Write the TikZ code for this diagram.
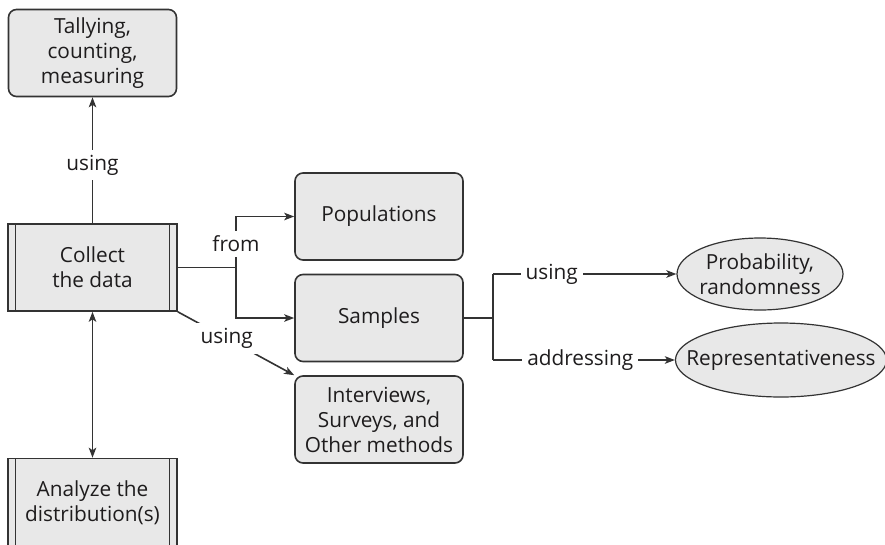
\documentclass[tikz,border=0pt]{standalone}
\usepackage{fontspec}
\setmainfont{Open Sans}
\usetikzlibrary{arrows.meta,shapes.geometric}
\definecolor{boxfill}{HTML}{E8E8E8}
\definecolor{ink}{HTML}{333333}
\definecolor{txt}{HTML}{1E1C1D}
\tikzset{
  arrowtip/.tip={Stealth[length=10pt, width=7.5pt, inset=2.5pt]},
  base/.style={draw=ink, fill=boxfill, line width=1.6pt, text=txt, align=center,
    font=\fontsize{20.8}{25}\selectfont, inner sep=0pt},
  roundbox/.style={base, rounded corners=8pt, minimum width=168pt, minimum height=87pt},
  stepbox/.style={base, minimum width=169pt, minimum height=87pt,
    path picture={
      \draw[ink, line width=1.6pt]
        ([xshift=7.5pt]path picture bounding box.north west) --
        ([xshift=7.5pt]path picture bounding box.south west)
        ([xshift=-7.5pt]path picture bounding box.north east) --
        ([xshift=-7.5pt]path picture bounding box.south east);}},
  oval/.style={base, ellipse, line width=1.2pt},
  conn/.style={draw=ink, line width=1.6pt},
  arr/.style={conn, -arrowtip},
  lbl/.style={fill=white, text=txt, font=\fontsize{20.8}{25}\selectfont, inner sep=5pt}
}
\begin{document}
\begin{tikzpicture}[x=1pt, y=-1pt]
  \clip (0,0) rectangle (885,544);
  \fill[white] (0,0) rectangle (885,544);

  % boxes
  \node[roundbox] (tally) at (92.5,53) {Tallying,\\counting,\\measuring};
  \node[stepbox] (collect) at (92.5,267.5) {Collect\\the data};
  \node[stepbox, minimum height=88pt] (analyze) at (92.5,502.5) {Analyze the\\distribution(s)};
  \node[roundbox] (pop) at (379,216.5) {Populations};
  \node[roundbox] (samp) at (379,318) {Samples};
  \node[roundbox] (interv) at (379,419.5) {Interviews,\\Surveys, and\\Other methods};
  \node[oval, inner xsep=-2pt, inner ysep=1pt, minimum width=166pt, minimum height=72pt]
    (prob) at (760,274) {Probability,\\randomness};
  \node[oval, inner xsep=-20pt, inner ysep=0pt, minimum width=208pt, minimum height=74pt]
    (rep) at (781,360) {Representativeness};

  % junction points
  \coordinate (j1) at (236,267.5);
  \coordinate (j2) at (493,318);
  \coordinate (jtop) at (493,274);
  \coordinate (jbot) at (493,360);

  % connectors
  \draw[arr] (collect.north) -- node[lbl, pos=0.46] {using} (tally.south);
  \draw[conn, arrowtip-arrowtip] (collect.south) -- (analyze.north);
  \draw[conn] (collect.east) -- (j1);
  \draw[arr] (j1) |- node[lbl, pos=0.23] {from} (pop.west);
  \draw[arr] (j1) |- (samp.west);
  \draw[arr] (collect.south east) -- node[lbl, pos=0.42] {using} (interv.north west);
  \draw[conn] (samp.east) -- (j2);
  \draw[conn] (jtop) -- (jbot);
  \draw[arr] (jtop) -- node[lbl, pos=0.32] {using} (prob.west);
  \draw[arr] (jbot) -- node[lbl, pos=0.48] {addressing} (rep.west);
\end{tikzpicture}
\end{document}
